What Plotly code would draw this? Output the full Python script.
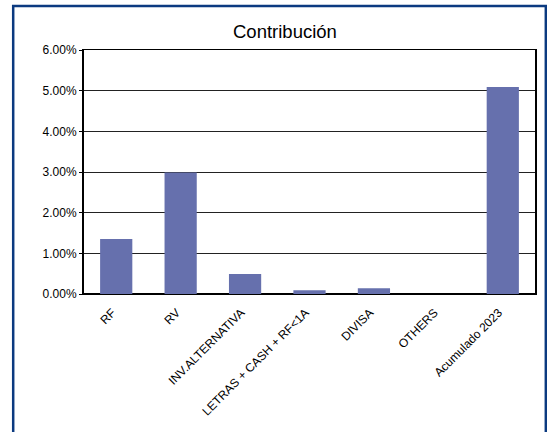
import plotly.graph_objects as go

categories = ["RF", "RV", "INV.ALTERNATIVA", "LETRAS + CASH + RF<1A", "DIVISA", "OTHERS", "Acumulado 2023"]
values = [0.0135, 0.0299, 0.0049, 0.0009, 0.0014, 0.0, 0.0509]
tick_vals = [0, 0.01, 0.02, 0.03, 0.04, 0.05, 0.06]
tick_text = ["0.00%", "1.00%", "2.00%", "3.00%", "4.00%", "5.00%", "6.00%"]
title_text = "Contribución"

fig = go.Figure()
fig.add_trace(go.Bar(
    x=categories, y=values,
    marker=dict(color="#6670AD", line=dict(width=0)),
    width=0.5,
))

fig.update_layout(
    width=547, height=432,
    margin=dict(l=84, r=12, t=50, b=138),
    paper_bgcolor="white", plot_bgcolor="white",
    font=dict(family="Liberation Sans, Arial, sans-serif", size=12, color="#000"),
    showlegend=False,
)
fig.update_xaxes(
    type="category",
    tickangle=-45,
    showline=True, linecolor="#000", linewidth=1, mirror=True,
    showgrid=False, ticks="",
    tickfont=dict(size=12),
    ticklabelshift=-4, ticklabelstandoff=6,
    automargin=False,
)
fig.update_yaxes(
    range=[0, 0.06],
    tickvals=tick_vals, ticktext=tick_text,
    showgrid=True, gridcolor="#222", gridwidth=1,
    showline=True, linecolor="#000", linewidth=2, mirror=True,
    ticks="outside", ticklen=3, tickcolor="#000",
    tickfont=dict(size=12),
    zeroline=True, zerolinecolor="#000", zerolinewidth=2,
    automargin=False,
)

fig.add_annotation(
    text=title_text, xref="paper", yref="paper",
    x=0.445, y=1.075, xanchor="center", yanchor="middle",
    showarrow=False, font=dict(size=18.5, color="#000"),
)

fig.add_shape(
    type="rect", xref="paper", yref="paper",
    x0=-0.157, x1=1.024, y0=-0.62, y1=1.18,
    line=dict(color="#0B3A80", width=2.5),
    fillcolor="rgba(0,0,0,0)", layer="below",
)

fig.write_html(
    "out.html",
    config={"displayModeBar": False},
    post_script="document.body.style.margin='0';document.body.style.padding='0';",
)
